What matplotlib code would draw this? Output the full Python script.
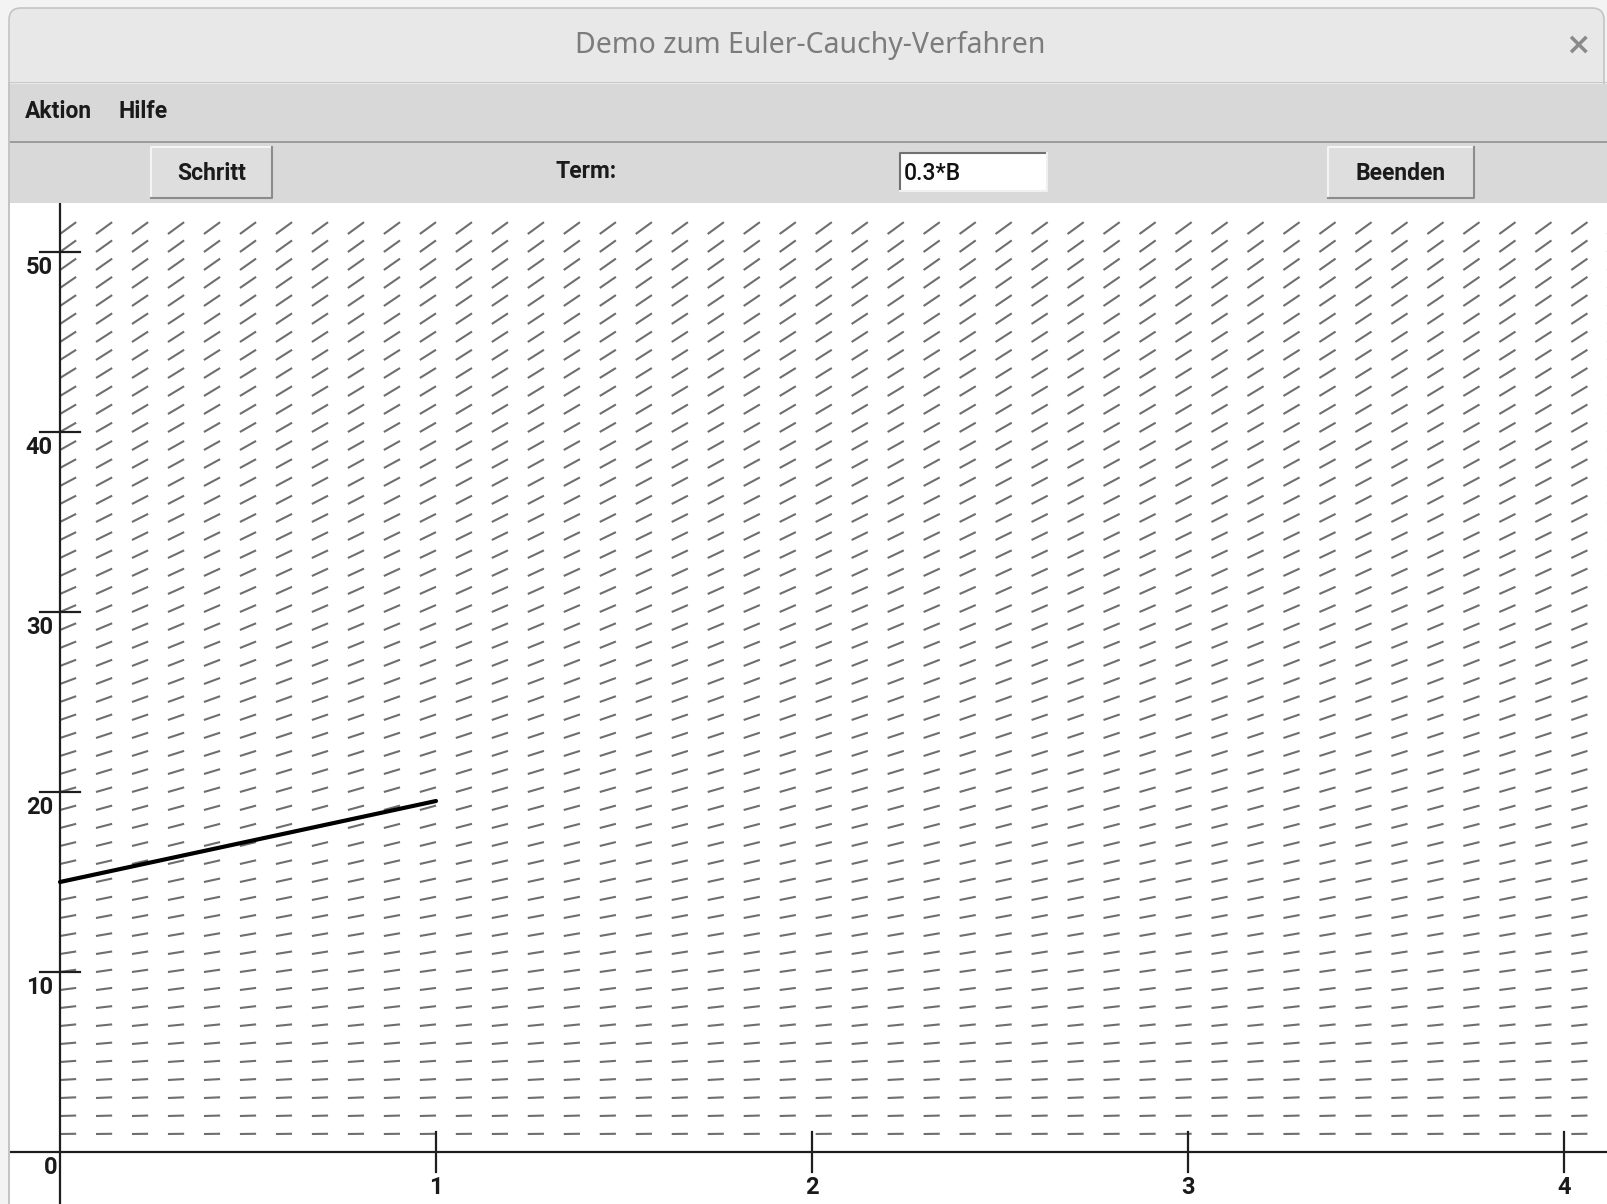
import numpy as np
import matplotlib
matplotlib.use("Agg")
import matplotlib.pyplot as plt
from matplotlib.collections import LineCollection
from matplotlib.patches import Rectangle, FancyBboxPatch

# ------------------------------------------------------------------
# data
# ------------------------------------------------------------------
window_title = "Demo zum Euler-Cauchy-Verfahren"
menu_items = ["Aktion", "Hilfe"]
term_text = "0.3*B"
term_coef = 0.3                      # slope field f(B) = 0.3*B

field_t = np.arange(44) * 0.0957     # columns of the direction field
field_b = np.arange(1, 52)           # rows of the direction field
seg_dt = 0.043                       # horizontal length of a field segment

euler_t = [0.0, 1.0]
euler_b = [15.0, 19.5]

x_ticks = [1, 2, 3, 4]
y_ticks = [10, 20, 30, 40, 50]

W, H = 1608, 1204
UI_FONT = dict(family="Roboto", fontweight="bold", color="#1a1a1a")

fig = plt.figure(figsize=(W / 100, H / 100), dpi=100, facecolor="#f3f3f3")

# ------------------------------------------------------------------
# window chrome, drawn in pixel coordinates
# ------------------------------------------------------------------
bg = fig.add_axes([0, 0, 1, 1])
bg.set_xlim(0, W)
bg.set_ylim(H, 0)
bg.axis("off")

bg.add_patch(FancyBboxPatch((9, 8), W - 13, 130, boxstyle="round,pad=0,rounding_size=12",
                            fc="#e8e8e8", ec="#c4c4c4", lw=1.2))
bg.add_patch(Rectangle((9, 82), W - 9, 1, fc="#c8c8c8", ec="none"))
bg.add_patch(Rectangle((9, 84), W - 9, 58, fc="#d8d8d8", ec="none"))
bg.add_patch(Rectangle((9, 141), W - 9, 2, fc="#9c9c9c", ec="none"))
bg.add_patch(Rectangle((9, 143), W - 9, 60, fc="#d9d9d9", ec="none"))
bg.add_patch(Rectangle((8, 82), 2, H - 82, fc="#c4c4c4", ec="none"))

bg.text(810, 45, window_title, ha="center", va="center", fontsize=20.5,
        family="Noto Sans", color="#7c7c7c")
bg.text(1578, 45, "\u00d7", ha="center", va="center", fontsize=22,
        family="DejaVu Sans", color="#8a8a8a", fontweight="bold")

for label, x in zip(menu_items, [25, 119]):
    bg.text(x, 112, label, ha="left", va="center", fontsize=16.5, **UI_FONT)


def button(x0, x1, y0, y1, label):
    bg.add_patch(Rectangle((x0, y0), x1 - x0, y1 - y0, fc="#dedede", ec="none"))
    bg.plot([x0, x0, x1], [y1, y0, y0], color="#f4f4f4", lw=1.5)
    bg.plot([x0, x1, x1], [y1, y1, y0], color="#8c8c8c", lw=1.5)
    bg.text((x0 + x1) / 2, (y0 + y1) / 2 + 1, label, ha="center", va="center",
            fontsize=16.5, **UI_FONT)


button(151, 272, 147, 198, "Schritt")
button(1328, 1474, 147, 198, "Beenden")
bg.text(586, 172, "Term:", ha="center", va="center", fontsize=16.5, **UI_FONT)

bg.add_patch(Rectangle((900, 153), 147, 38, fc="white", ec="none"))
bg.plot([900, 900, 1047], [191, 153, 153], color="#707070", lw=1.5)
bg.plot([900, 1047, 1047], [191, 191, 153], color="#f0f0f0", lw=1.5)
bg.text(904, 173, term_text, ha="left", va="center", fontsize=16.5,
        family="Roboto", fontweight="medium", color="#111111")

# ------------------------------------------------------------------
# canvas with direction field and Euler step
# ------------------------------------------------------------------
px_per_t, px_per_b = 376.0, 18.0
x0_px, y0_px = 60.0, 1152.0
left_px, top_px = 10.0, 203.0

ax = fig.add_axes([left_px / W, 0, (W - left_px) / W, (H - top_px) / H])
ax.set_xlim((left_px - x0_px) / px_per_t, (W - x0_px) / px_per_t)
ax.set_ylim((y0_px - H) / px_per_b, (y0_px - top_px) / px_per_b)
ax.set_facecolor("white")
ax.set_xticks([])
ax.set_yticks([])
for s in ax.spines.values():
    s.set_visible(False)

segs = []
for b in field_b:
    for t in field_t:
        segs.append([(t, b), (t + seg_dt, b + term_coef * b * seg_dt)])
ax.add_collection(LineCollection(segs, colors="#6e6e6e", linewidths=1.5))

xlo, xhi = ax.get_xlim()
ylo, yhi = ax.get_ylim()
ax.plot([xlo, xhi], [0, 0], color="#1e1e1e", lw=1.6, solid_capstyle="butt")
ax.plot([0, 0], [ylo, yhi], color="#1e1e1e", lw=1.6, solid_capstyle="butt")

tick_t = 20 / px_per_t
tick_b = 20 / px_per_b
for yt in y_ticks:
    ax.plot([-tick_t, tick_t], [yt, yt], color="#1e1e1e", lw=1.6)
    ax.text(-7 / px_per_t, yt - 15 / px_per_b, str(yt), ha="right", va="center",
            fontsize=17, **UI_FONT)
for xt in x_ticks:
    ax.plot([xt, xt], [-tick_b, tick_b], color="#1e1e1e", lw=1.6)
    ax.text(xt, -35 / px_per_b, str(xt), ha="center", va="center",
            fontsize=17, **UI_FONT)
ax.text(-2 / px_per_t, -16 / px_per_b, "0", ha="right", va="center",
        fontsize=17, **UI_FONT)

ax.plot(euler_t, euler_b, color="black", lw=3.0, solid_capstyle="round")

fig.savefig("out.png", dpi=100)
